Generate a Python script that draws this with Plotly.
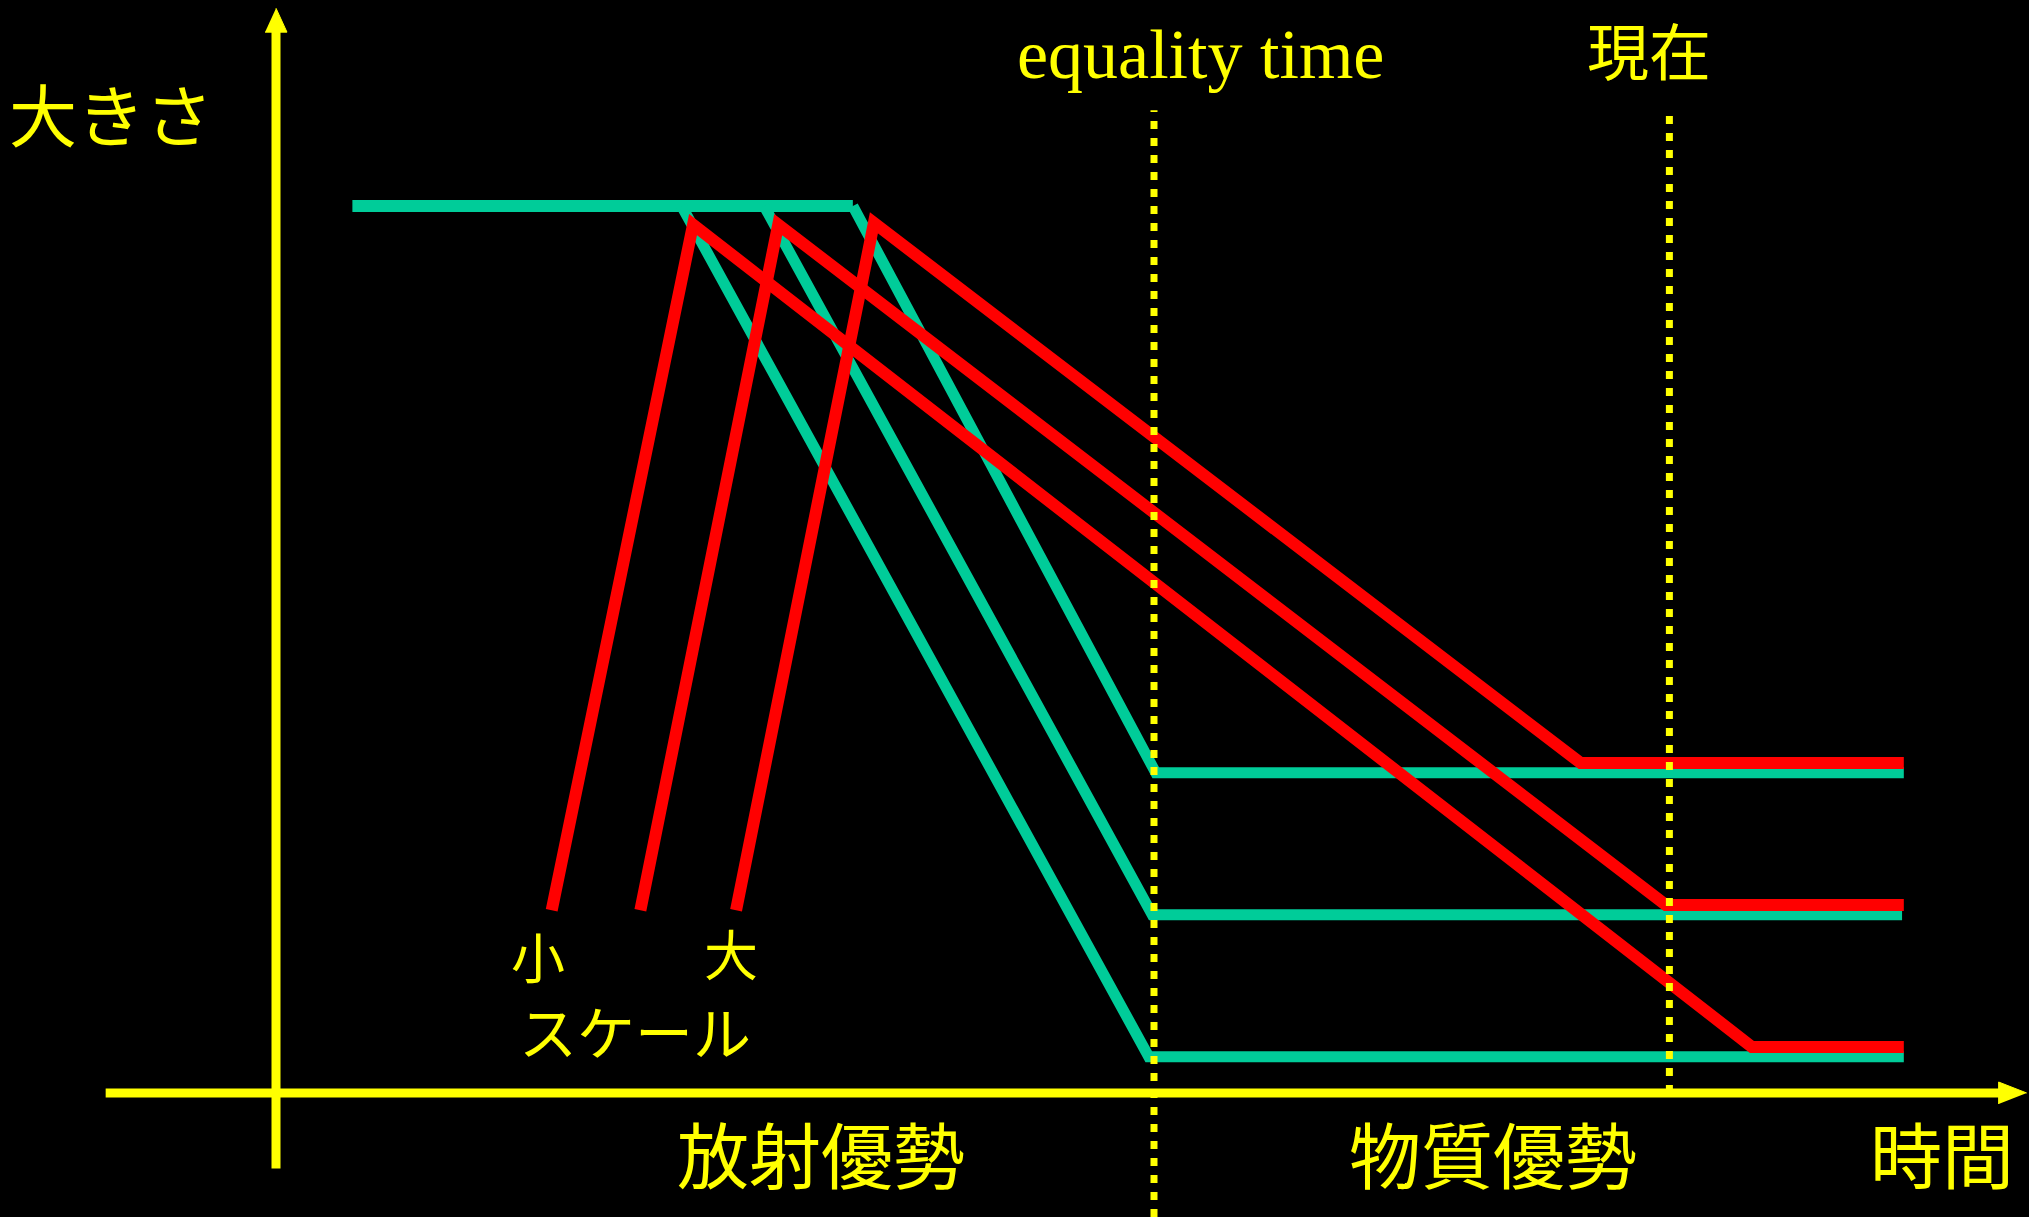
import plotly.graph_objects as go

# ---- data (time: equality time = 1.0 ; size: initial size = 1.0) ----
# green: horizon / scale evolution of modes
green_top_x = [0.087, 0.657]
green_top_y = [1.0, 1.0]
green1_x = [0.462, 0.994, 1.854]
green1_y = [1.0, 0.041, 0.041]
green2_x = [0.556, 0.998, 1.852]
green2_y = [1.0, 0.201, 0.201]
green3_x = [0.657, 1.002, 1.854]
green3_y = [1.0, 0.361, 0.361]

# red: perturbation amplitude for small / medium / large scales
red1_x = [0.314, 0.475, 1.681, 1.854]
red1_y = [0.206, 0.979, 0.052, 0.052]
red2_x = [0.415, 0.572, 1.583, 1.854]
red2_y = [0.206, 0.979, 0.212, 0.212]
red3_x = [0.524, 0.681, 1.486, 1.854]
red3_y = [0.206, 0.981, 0.372, 0.372]

# vertical markers
equality_time = 1.0
present_time = 1.587
marker_top = 1.108

# axes (arrows)
yaxis_x = [0.0, 0.0]
yaxis_y = [-0.085, 1.200]
yhead_x = [-0.0125, 0.0125, 0.0]
yhead_y = [1.196, 1.196, 1.223]
xaxis_x = [-0.194, 1.965]
xaxis_y = [0.0, 0.0]
xhead_x = [1.962, 1.962, 1.994]
xhead_y = [-0.0124, 0.0124, 0.0]

# labels
labels = ["大きさ", "equality time", "現在", "小", "大", "スケール", "放射優勢", "物質優勢", "時間"]
label_x = [-0.188, 1.0535, 1.564, 0.298, 0.518, 0.409, 0.621, 1.386, 1.8975]
label_y = [1.105, 1.171, 1.177, 0.1545, 0.158, 0.071, -0.0665, -0.0665, -0.0665]
label_size = [68, 70, 62, 54, 54, 58, 72, 72, 72]
label_font = ["Noto Sans CJK JP", "Liberation Serif", "Noto Sans CJK JP", "Noto Sans CJK JP",
              "Noto Sans CJK JP", "Noto Sans CJK JP", "Noto Sans CJK JP", "Noto Sans CJK JP",
              "Noto Sans CJK JP"]

GREEN = "#00CC99"
RED = "#FF0000"
YELLOW = "#FFFF00"

W, H = 2029, 1217
# pixel mapping: origin at (276, 1093); 878 px per time unit, 887 px per size unit
x_range = [-276 / 878, (W - 276) / 878]
y_range = [(1093 - H) / 887, 1093 / 887]

fig = go.Figure()

def line(x, y, color, width, dash="solid"):
    fig.add_trace(go.Scatter(x=x, y=y, mode="lines",
                             line=dict(color=color, width=width, dash=dash),
                             hoverinfo="skip", showlegend=False))

line(green_top_x, green_top_y, GREEN, 12)
for gx, gy in [(green1_x, green1_y), (green2_x, green2_y), (green3_x, green3_y)]:
    line(gx, gy, GREEN, 11)
for rx, ry in [(red1_x, red1_y), (red2_x, red2_y), (red3_x, red3_y)]:
    line(rx, ry, RED, 12)

line([equality_time, equality_time], [y_range[0], marker_top], YELLOW, 7, "8px,9px")
line([present_time, present_time], [0.0, marker_top], YELLOW, 7, "8px,9px")

line(yaxis_x, yaxis_y, YELLOW, 9)
line(xaxis_x, xaxis_y, YELLOW, 9)
for hx, hy in [(yhead_x, yhead_y), (xhead_x, xhead_y)]:
    fig.add_trace(go.Scatter(x=hx, y=hy, mode="lines", fill="toself",
                             fillcolor=YELLOW, line=dict(color=YELLOW, width=1),
                             hoverinfo="skip", showlegend=False))

for t, x, y, s, f in zip(labels, label_x, label_y, label_size, label_font):
    fig.add_annotation(x=x, y=y, text=t, showarrow=False, xanchor="center", yanchor="middle",
                       font=dict(family=f, size=s, color=YELLOW))

fig.update_layout(
    width=W, height=H,
    margin=dict(l=0, r=0, t=0, b=0, pad=0),
    paper_bgcolor="black", plot_bgcolor="black",
    xaxis=dict(range=x_range, visible=False, fixedrange=True),
    yaxis=dict(range=y_range, visible=False, fixedrange=True),
    showlegend=False,
)

fig.write_html(
    "out.html",
    config={"displayModeBar": False},
    post_script="document.body.style.margin='0';document.body.style.overflow='hidden';"
                "document.body.style.background='black';",
)
